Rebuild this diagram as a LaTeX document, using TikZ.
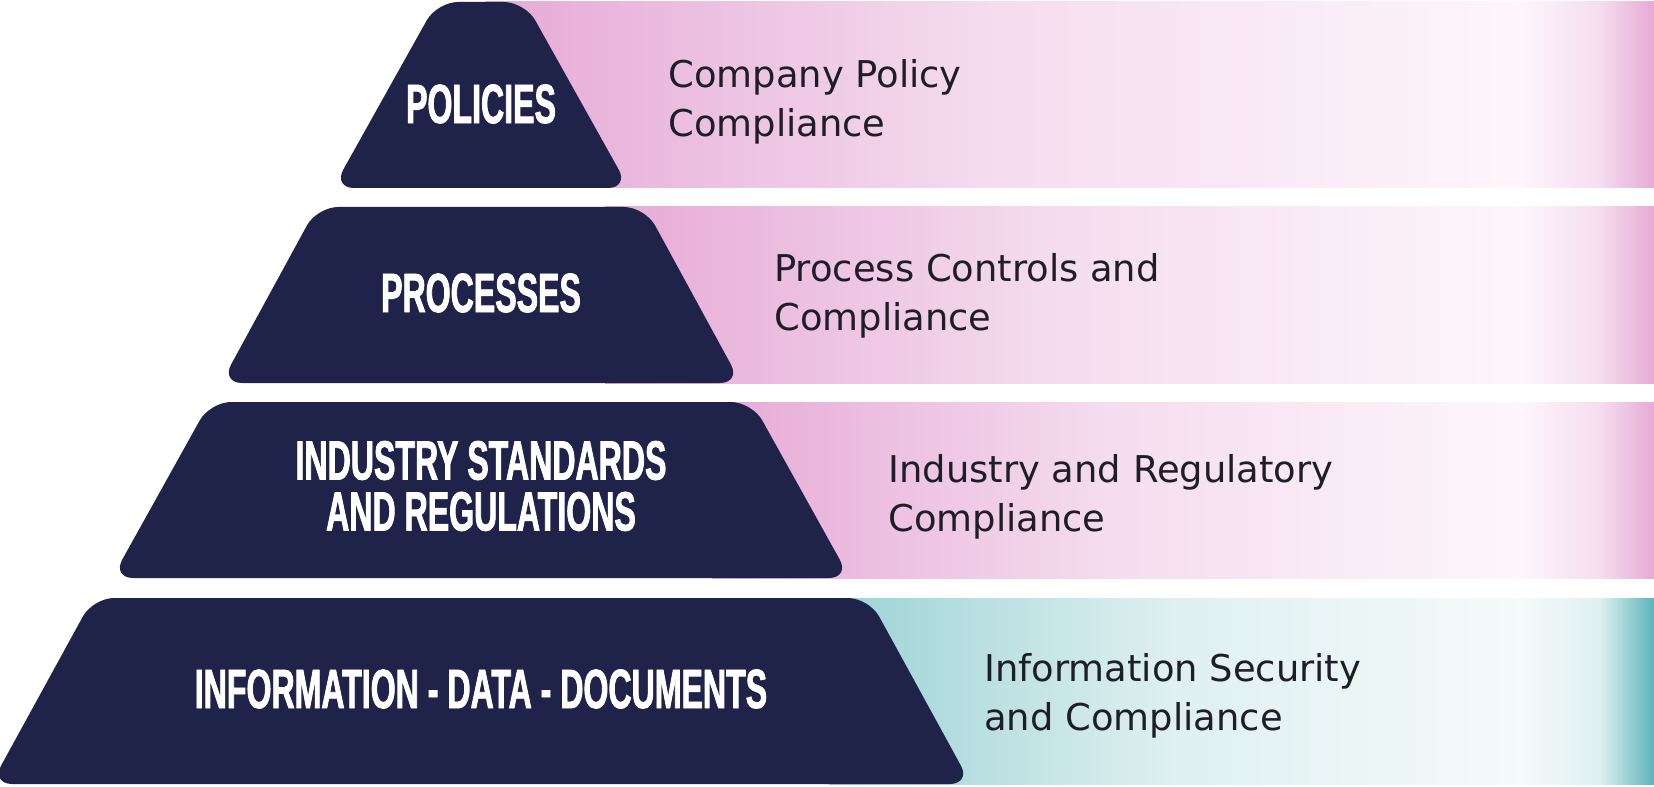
\documentclass[tikz,border=0pt]{standalone}
\usepackage{xcolor}
\usepackage{fontspec}
\usepackage{tikz}
\usetikzlibrary{positioning,calc}
\setmainfont{DejaVu Sans}
\newfontfamily\tierfont[FakeStretch=0.58,FakeBold=1.4]{Liberation Sans Bold}

\definecolor{navy}{HTML}{1F2349}
\definecolor{pinkdeep}{HTML}{E6AAD6}
\definecolor{pinkmid}{HTML}{F5DDEF}
\definecolor{pinklite}{HTML}{FDF6FB}
\definecolor{tealdeep}{HTML}{9CD2D5}
\definecolor{tealmid}{HTML}{DFF0F1}
\definecolor{teallite}{HTML}{F5FAFA}
\definecolor{tealedge}{HTML}{5BB5BA}
\definecolor{ink}{HTML}{1E1E28}

\tikzstyle{tier}= [fill=navy, rounded corners=12pt]
\tikzstyle{tierlabel}= [text=white, font=\tierfont\fontsize{31.5}{29}\selectfont, align=center, inner sep=0pt]
\tikzstyle{note}= [text=ink, font=\fontsize{21}{27.8}\selectfont, align=left, anchor=west, inner sep=0pt]

\begin{document}
\begin{tikzpicture}[x=0.02cm, y=-0.02cm]
				\useasboundingbox (0,0) rectangle (1654,787);
				
				% pink and teal bands behind the pyramid
				\shade[left color=pinkdeep, right color=pinklite, middle color=pinkmid] (485,2) rectangle (1521,188);
				\shade[left color=pinklite, right color=pinkmid] (1520,2) rectangle (1601,188);
				\shade[left color=pinkmid, right color=pinkdeep] (1600,2) rectangle (1654,188);
				
				\shade[left color=pinkdeep, right color=pinklite, middle color=pinkmid] (605,207) rectangle (1521,383);
				\shade[left color=pinklite, right color=pinkmid] (1520,207) rectangle (1601,383);
				\shade[left color=pinkmid, right color=pinkdeep] (1600,207) rectangle (1654,383);
				
				\shade[left color=pinkdeep, right color=pinklite, middle color=pinkmid] (712,402) rectangle (1521,578);
				\shade[left color=pinklite, right color=pinkmid] (1520,402) rectangle (1601,578);
				\shade[left color=pinkmid, right color=pinkdeep] (1600,402) rectangle (1654,578);
				
				\shade[left color=tealdeep, right color=teallite, middle color=tealmid] (829,598) rectangle (1521,784);
				\shade[left color=teallite, right color=tealmid] (1520,598) rectangle (1601,784);
				\shade[left color=tealmid, right color=tealedge] (1600,598) rectangle (1654,784);
				
				% pyramid
				\fill[tier] (333,188) -- (437,2) -- (525,2) -- (629,188) -- cycle;
				\fill[tier] (221,383) -- (317,207) -- (645,207) -- (741,383) -- cycle;
				\fill[tier] (112,578) -- (210,402) -- (752,402) -- (850,578) -- cycle;
				\fill[tier] (-9,784) -- (93,598) -- (869,598) -- (971,784) -- cycle;
				
				\node[tierlabel] (policies) at (481,104) {POLICIES};
				\node[tierlabel] (processes) at (481,293) {PROCESSES};
				\node[tierlabel] (standards) at (481,486) {INDUSTRY STANDARDS\\AND REGULATIONS};
				\node[tierlabel] (information) at (481,689) {INFORMATION - DATA - DOCUMENTS};
				
				\node[note] (policynote) at (668,102) {Company Policy\\Compliance};
				\node[note] (processnote) at (774,296) {Process Controls and\\Compliance};
				\node[note] (regnote) at (888,497) {Industry and Regulatory\\Compliance};
				\node[note] (securitynote) at (984,696) {Information Security\\and Compliance};
			\end{tikzpicture}
\end{document}
